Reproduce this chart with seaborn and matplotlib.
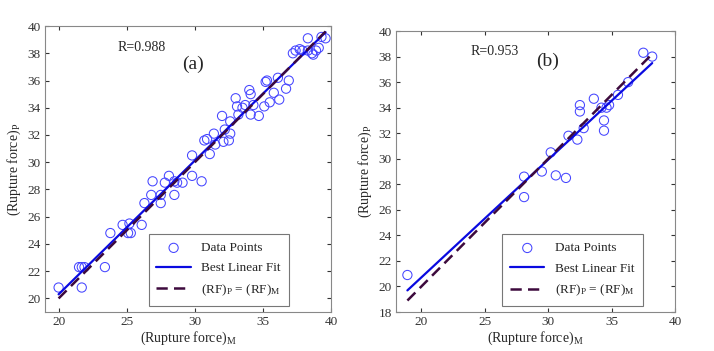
import numpy as np
import pandas as pd
import matplotlib
matplotlib.use("Agg")
import matplotlib.pyplot as plt
import seaborn as sns

# panel (a) measured vs predicted rupture force
rf_m_a = [20.0, 21.7, 21.5, 21.7, 21.9, 23.4, 23.8, 24.7, 25.2, 25.3, 25.1, 26.1,
          26.3, 26.8, 26.9, 27.5, 27.5, 27.8, 28.1, 28.5, 28.5, 28.7, 29.1, 29.8,
          30.5, 29.8, 31.1, 30.7, 30.9, 31.4, 31.5, 32.2, 32.1, 32.5, 32.6, 32.0,
          32.6, 33.0, 33.1, 33.2, 33.7, 34.1, 34.1, 34.7, 33.5, 34.3, 34.0, 35.1,
          35.5, 35.2, 35.3, 35.8, 36.1, 36.2, 36.7, 36.9, 37.2, 37.4, 37.7, 37.9,
          38.3, 38.6, 38.7, 38.9, 39.1, 38.3, 39.3, 39.6]
rf_p_a = [20.8, 20.8, 22.3, 22.3, 22.3, 22.3, 24.8, 25.4, 25.5, 24.8, 24.8, 25.4,
          27.0, 27.6, 28.6, 27.6, 27.0, 28.5, 29.0, 28.6, 27.6, 28.5, 28.5, 29.0,
          28.6, 30.5, 30.6, 31.6, 31.7, 32.1, 31.3, 32.4, 31.5, 31.6, 32.1, 33.4,
          33.0, 34.7, 34.1, 33.5, 34.2, 35.0, 33.5, 33.4, 34.0, 34.2, 35.3, 34.1,
          34.4, 35.9, 36.0, 35.1, 36.2, 34.6, 35.4, 36.0, 38.0, 38.2, 38.3, 38.2,
          38.2, 38.0, 37.9, 38.2, 38.4, 39.1, 39.2, 39.1]

# panel (b)
rf_m_b = [18.9, 28.1, 28.1, 29.5, 30.6, 31.4, 30.2, 31.6, 32.3, 32.8, 32.5, 32.5,
          33.6, 34.4, 34.4, 34.2, 34.6, 34.8, 35.5, 36.3, 37.5, 38.2]
rf_p_b = [20.9, 28.6, 27.0, 29.0, 28.7, 28.5, 30.5, 31.8, 31.5, 32.4, 34.2, 33.7,
          34.7, 33.0, 32.2, 34.0, 34.0, 34.2, 35.0, 36.0, 38.3, 38.0]

# best linear fit (slope, intercept) and R values
fit_a = (0.982, 0.66)
fit_b = (0.922, 2.27)
r_vals = ["R=0.988", "R=0.953"]
panel_tags = ["(a)", "(b)"]

sns.set_style("ticks")
plt.rcParams["font.family"] = ["Liberation Serif", "DejaVu Serif"]
plt.rcParams["mathtext.fontset"] = "custom"
plt.rcParams["mathtext.rm"] = "Liberation Serif"
plt.rcParams["mathtext.it"] = "Liberation Serif"

fig = plt.figure(figsize=(7.14, 3.51), dpi=100)
ax_a = fig.add_axes([0.063, 0.111, 0.4006, 0.8148])
ax_b = fig.add_axes([0.5546, 0.111, 0.3908, 0.8006])

point_col = "#4545ff"
fit_col = "#0a0ae0"
ref_col = "#3d0a3d"


def draw_panel(ax, xm, yp, fit, r_txt, tag, xlim, ylim, yticks, txt_pos, tag_pos, leg_x):
    df = pd.DataFrame({"m": xm, "p": yp})
    sns.scatterplot(data=df, x="m", y="p", ax=ax, marker="o", s=44,
                    facecolors="none", edgecolor=point_col, linewidth=0.75,
                    label="Data Points", zorder=2)
    xs = np.array([min(xm), max(xm)])
    sns.lineplot(x=xs, y=fit[0] * xs + fit[1], ax=ax, color=fit_col, lw=1.6,
                 label="Best Linear Fit", zorder=3)
    sns.lineplot(x=xs, y=xs, ax=ax, color=ref_col, lw=1.8,
                 linestyle=(0, (4.5, 2.5)),
                 label=r"(RF)$_{\mathregular{P}}$ = (RF)$_{\mathregular{M}}$", zorder=4)
    ax.set_xlim(*xlim)
    ax.set_ylim(*ylim)
    ax.set_xticks([20, 25, 30, 35, 40])
    ax.set_yticks(yticks)
    ax.tick_params(direction="in", top=True, right=True, length=3,
                   labelsize=9.5, colors="#333333", pad=3)
    for s in ax.spines.values():
        s.set_color("#888888")
        s.set_linewidth(0.8)
    ax.set_xlabel(r"(Rupture force)$_{\mathregular{M}}$", fontsize=10, labelpad=1)
    ax.set_ylabel(r"(Rupture force)$_{\mathregular{P}}$", fontsize=10, labelpad=3)
    ax.text(txt_pos[0], txt_pos[1], r_txt, fontsize=10, va="center", ha="left")
    ax.text(tag_pos[0], tag_pos[1], tag, fontsize=14, va="center", ha="center")
    leg = ax.legend(loc="lower right", bbox_to_anchor=(leg_x, 0.022),
                    borderaxespad=0, fontsize=9.5, frameon=True, fancybox=False,
                    handlelength=2.6, labelspacing=0.6, borderpad=0.6)
    leg.get_frame().set_edgecolor("#555555")
    leg.get_frame().set_linewidth(0.8)


draw_panel(ax_a, rf_m_a, rf_p_a, fit_a, r_vals[0], panel_tags[0],
           (19, 40), (19, 40), np.arange(20, 41, 2), (24.3, 38.4), (29.9, 37.2), 0.853)
draw_panel(ax_b, rf_m_b, rf_p_b, fit_b, r_vals[1], panel_tags[1],
           (18, 40), (18, 40), np.arange(18, 41, 2), (23.9, 38.4), (29.95, 37.6), 0.884)

fig.savefig("out.png", dpi=100)
